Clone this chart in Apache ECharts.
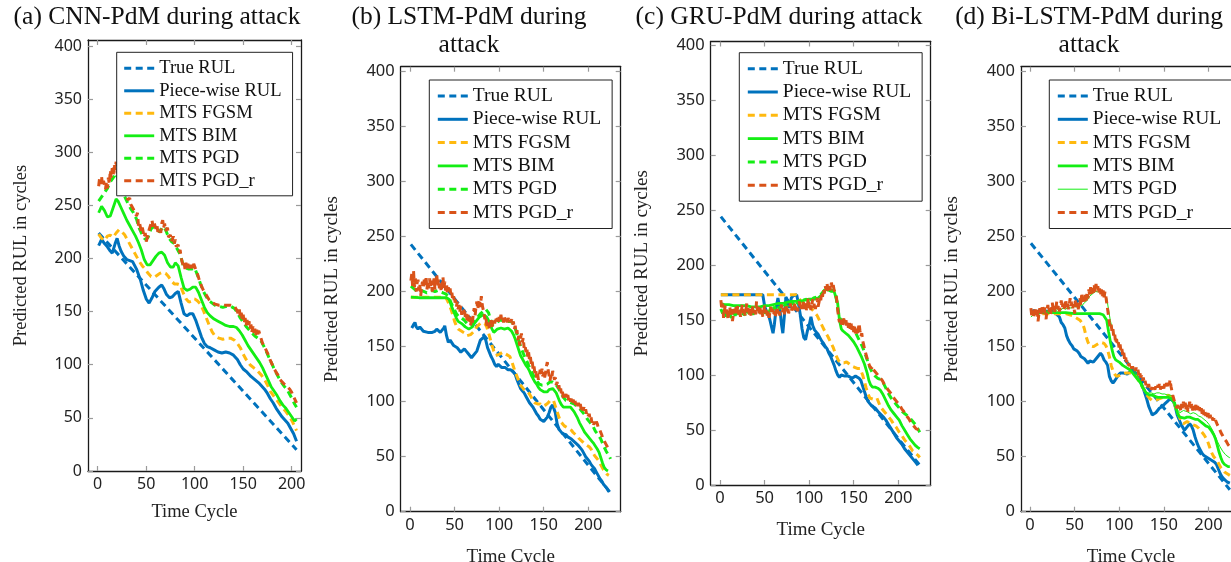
<!DOCTYPE html>
<html><head><meta charset="utf-8">
<script src="https://cdn.jsdelivr.net/npm/echarts@6/dist/echarts.min.js"></script>
<style>html,body{margin:0;padding:0;background:#fff}#c{width:1231px;height:562px}</style>
</head><body><div id="c"></div>
<script>
// ---------- labels ----------
const seriesNames = ['True RUL','Piece-wise RUL','MTS FGSM','MTS BIM','MTS PGD','MTS PGD_r'];
const titles = ['(a) CNN-PdM during attack','(b) LSTM-PdM during\nattack','(c) GRU-PdM during attack','(d) Bi-LSTM-PdM during\nattack'];
const xTicks = [0,50,100,150,200];
const yTicks = [0,50,100,150,200,250,300,350,400];
const xName = 'Time Cycle';
const yName = 'Predicted RUL in cycles';

// ---------- (a) CNN ----------
const a_true = [[1,224],[205,20]];
const a_piece = [[1,212],[4,218],[7,214],[10,211],[13,207],[15,205],[18,214],[20,219],[22,212],[24,207],[27,202],[30,199],[33,198],[36,197],[40,190],[44,180],[47,170],[50,162],[53,158],[56,163],[59,169],[63,173],[66,175],[68,172],[71,166],[74,163],[77,164],[80,167],[83,169],[86,158],[89,148],[92,146],[95,148],[98,148],[101,142],[104,134],[107,126],[110,120],[113,117],[116,116],[120,114],[124,112],[128,111],[132,112],[136,111],[140,109],[144,105],[147,100],[150,96],[154,93],[158,89],[162,86],[166,83],[169,80],[172,77],[175,73],[178,68],[181,64],[184,59],[187,55],[190,51],[193,48],[196,45],[199,40],[202,35],[205,28]];
const a_fgsm = [[1,223],[4,219],[7,217],[10,221],[13,222],[16,220],[19,224],[22,227],[25,225],[28,222],[31,217],[34,212],[37,207],[40,202],[43,197],[46,193],[49,190],[52,186],[55,183],[58,182],[61,184],[64,186],[67,187],[70,186],[73,183],[76,179],[79,176],[82,176],[85,175],[88,168],[91,162],[94,159],[97,160],[100,162],[103,160],[106,157],[109,151],[112,144],[115,137],[118,131],[121,127],[125,125],[129,124],[133,125],[137,125],[141,123],[144,120],[147,116],[150,110],[153,105],[157,100],[161,97],[165,94],[169,90],[172,86],[175,81],[178,75],[182,70],[186,65],[190,60],[194,56],[198,51],[201,46],[205,38]];
const a_bim = [[1,243],[4,249],[7,245],[10,239],[13,240],[16,248],[19,256],[21,254],[24,248],[27,242],[30,236],[33,231],[36,226],[39,221],[42,215],[45,208],[48,199],[51,194],[54,194],[57,198],[60,202],[63,205],[66,206],[69,203],[72,196],[75,192],[78,192],[80,196],[83,193],[86,182],[89,172],[92,170],[95,171],[98,173],[101,173],[104,168],[107,161],[110,154],[113,149],[116,146],[120,143],[124,141],[128,139],[132,137],[136,136],[140,136],[143,135],[146,132],[149,128],[152,123],[155,118],[158,114],[161,110],[164,106],[167,102],[170,97],[173,91],[176,85],[179,79],[182,75],[185,71],[188,66],[191,62],[194,59],[197,55],[200,51],[203,47],[205,49]];
const a_pgd = [[1,254],[4,258],[7,262],[10,266],[13,272],[16,276],[19,280],[22,272],[25,264],[28,258],[31,252],[34,247],[37,243],[40,237],[43,228],[46,222],[49,218],[52,220],[55,228],[58,230],[61,228],[64,225],[67,230],[70,227],[73,220],[76,216],[79,214],[82,209],[85,204],[88,194],[91,191],[94,190],[97,190],[100,191],[103,184],[106,176],[109,169],[112,164],[115,160],[118,158],[121,156],[125,155],[129,154],[133,155],[137,155],[141,153],[144,149],[147,144],[150,140],[153,136],[156,133],[159,130],[162,127],[165,125],[168,123],[171,118],[174,112],[177,106],[180,100],[183,94],[186,89],[189,84],[192,80],[195,77],[198,72],[201,67],[203,63],[205,60]];
const a_pgdr = [[1,268],[2,276],[3,270],[4,277],[5,268],[6,273],[8,265],[9,272],[10,266],[11,276],[12,270],[13,283],[14,276],[15,285],[16,279],[17,289],[18,283],[19,291],[20,280],[21,283],[22,274],[24,277],[25,268],[27,269],[28,261],[30,263],[31,255],[33,257],[34,251],[36,252],[37,246],[39,247],[40,240],[41,243],[42,231],[43,234],[45,225],[46,229],[48,220],[49,224],[50,216],[52,222],[53,227],[55,233],[56,236],[57,230],[58,234],[60,228],[61,232],[62,225],[64,228],[65,224],[66,233],[67,236],[68,229],[69,233],[70,226],[72,229],[73,220],[75,222],[76,216],[78,221],[79,214],[80,218],[81,211],[83,213],[84,206],[85,208],[86,201],[87,197],[88,194],[89,197],[90,190],[91,196],[92,189],[93,195],[94,189],[95,194],[96,189],[97,194],[98,190],[99,195],[100,194],[101,190],[103,185],[105,179],[107,174],[109,170],[111,167],[113,164],[115,161],[117,159],[119,158],[121,157],[123,157],[125,156],[127,155],[129,156],[131,157],[133,156],[135,157],[137,156],[139,157],[141,155],[143,152],[145,148],[146,152],[147,145],[148,149],[149,142],[150,147],[151,139],[152,144],[153,137],[154,142],[155,137],[156,141],[157,134],[158,138],[159,131],[160,136],[161,130],[162,134],[163,128],[164,133],[165,128],[166,132],[168,126],[170,120],[172,117],[174,113],[176,109],[178,104],[180,100],[182,96],[184,93],[186,90],[188,86],[190,84],[192,82],[194,81],[196,79],[198,77],[200,74],[202,70],[204,66],[205,64]];

// ---------- (b) LSTM ----------
const b_true = [[1,243],[224,18]];
const b_piece = [[2,167],[4,170],[5.6,172],[7,168],[9,166],[11,168],[13,167],[15,164],[17,163],[20,163],[22,162],[25,163],[28,164],[30,166],[32,167],[34,163],[36,165],[38,167],[39,169],[41,160],[43,154],[45,156],[47,155],[49,151],[51,152],[53,149],[55,148],[57,145],[59,146],[61,148],[63,146],[65,144],[67,142],[69,140],[71,142],[73,141],[75,146],[77,151],[79,156],[81,157],[83,159],[85,156],[87,149],[89,145],[91,141],[93,138],[95,134],[97,132],[99,134],[101,134],[103,131],[105,130],[107,131],[110,129],[113,129],[116,127],[118,125],[120,120],[122,116],[124,112],[126,110],[128,108],[130,105],[132,102],[134,99],[136,97],[138,95],[140,92],[142,89],[144,87],[146,84],[148,83],[150,82],[152,83],[154,86],[156,90],[158,95],[160,97],[162,96],[163,90],[165,80],[167,75],[169,73],[171,71],[173,70],[175,70],[177,68],[179,67],[181,66],[183,65],[185,63],[187,62],[189,60],[191,58],[193,56],[195,53],[197,50],[199,48],[201,46],[203,43],[205,41],[207,39],[209,36],[211,33],[213,30],[215,28],[217,25],[219,23],[221,21],[223,18]];
const b_fgsm = [[1,195],[10,195],[20,195],[30,195],[40,195],[42,192],[44,188],[46,184],[48,179],[50,173],[52,169],[54,166],[56,165],[58,164],[60,163],[62,162],[64,160],[66,160],[68,161],[70,162],[72,164],[74,167],[76,169],[78,170],[80,172],[82,172],[84,171],[86,168],[88,163],[90,157],[92,151],[94,146],[96,142],[98,141],[100,143],[102,144],[104,145],[106,144],[108,143],[110,142],[112,141],[114,137],[116,132],[118,127],[120,123],[122,119],[124,115],[126,113],[128,111],[130,110],[132,109],[134,107],[136,104],[138,101],[140,99],[143,98],[146,98],[149,96],[152,97],[155,99],[157,101],[159,102],[161,101],[163,96],[165,91],[167,86],[169,82],[171,80],[173,78],[175,77],[177,76],[179,75],[181,74],[183,72],[185,71],[187,69],[189,67],[191,66],[193,64],[195,63],[197,61],[199,60],[201,59],[203,57],[205,54],[207,51],[209,49],[211,47],[213,44],[215,41],[217,38],[219,36],[221,34],[223,33]];
const b_bim = [[1,195],[10,194.5],[20,194.5],[30,194.5],[41,194.5],[44,193],[46,188],[48,184],[50,180],[52,176],[54,173],[56,172],[58,171],[60,170],[62,168],[64,167],[66,166],[68,166],[70,168],[72,171],[74,173],[76,175],[78,177],[80,178],[82,179],[84,179],[86,177],[88,174],[90,170],[92,166],[94,163],[96,164],[98,166],[100,167],[102,167],[104,166],[106,166],[108,167],[110,167],[112,166],[114,164],[116,161],[118,157],[120,152],[122,147],[124,142],[126,139],[128,136],[130,133],[132,131],[134,128],[136,124],[138,121],[140,118],[142,116],[144,113],[146,111],[148,110],[150,109],[152,108],[154,109],[156,111],[158,112],[160,112],[162,111],[164,108],[166,104],[168,100],[170,97],[172,95],[174,94],[176,95],[178,96],[180,95],[182,94],[184,91],[186,88],[188,85],[190,81],[192,78],[194,75],[196,72],[198,70],[200,68],[202,66],[204,64],[206,62],[208,61],[210,57],[212,54],[214,49],[216,44],[218,40],[220,38],[222,37]];
const b_pgd = [[1,205],[4,203],[7,201],[10,200],[13,201],[16,200],[19,199],[22,200],[25,201],[28,200],[31,201],[34,200],[37,199],[40,198],[43,196],[46,190],[49,185],[52,180],[55,177],[58,176],[61,174],[64,171],[67,169],[70,171],[73,174],[76,177],[79,180],[82,182],[85,184],[88,181],[90,176],[92,170],[94,169],[96,170],[98,172],[100,174],[103,174],[106,173],[109,173],[112,173],[115,172],[117,169],[119,164],[121,158],[123,153],[125,148],[127,144],[129,140],[131,137],[133,133],[135,129],[137,126],[139,123],[141,120],[143,118],[145,116],[148,115],[151,115],[154,116],[157,118],[160,118],[163,116],[166,113],[169,108],[172,104],[175,101],[178,100],[181,99],[184,98],[187,96],[190,94],[193,91],[196,88],[199,84],[202,81],[205,78],[208,73],[211,70],[214,66],[217,60],[220,55],[223,51],[225,48]];
const b_pgdr = [[1,210],[2,216],[3,205],[4,219],[5,204],[6,212],[7,200],[8,208],[9,211],[10,201],[11,207],[12,196],[13,204],[14,209],[15,203],[16,211],[17,206],[18,214],[19,202],[20,209],[21,203],[22,212],[23,204],[24,210],[25,200],[26,207],[27,212],[28,202],[29,208],[30,216],[31,205],[32,211],[33,203],[34,209],[35,200],[36,207],[37,213],[38,203],[39,209],[40,201],[41,207],[42,198],[43,204],[44,199],[45,203],[46,196],[47,199],[48,192],[49,196],[50,189],[51,193],[52,186],[53,191],[54,184],[55,188],[56,182],[57,187],[58,179],[59,184],[60,180],[61,185],[62,177],[63,181],[64,174],[65,179],[66,172],[67,177],[68,169],[69,176],[70,172],[71,180],[72,185],[73,178],[74,186],[75,191],[76,184],[77,190],[78,193],[79,186],[80,196],[81,188],[82,184],[83,180],[84,175],[85,178],[86,170],[87,168],[88,172],[89,166],[90,170],[91,174],[92,168],[93,173],[94,176],[95,171],[96,177],[97,173],[98,176],[99,172],[100,177],[101,174],[102,179],[103,173],[104,176],[105,172],[106,177],[107,173],[108,176],[109,172],[110,176],[111,174],[112,176],[113,172],[114,175],[115,170],[116,173],[117,166],[118,169],[119,162],[120,165],[121,156],[122,160],[123,151],[124,158],[125,162],[126,154],[127,158],[128,149],[129,152],[130,145],[131,149],[132,141],[133,145],[134,138],[135,141],[136,134],[137,137],[138,130],[139,133],[140,126],[141,129],[142,122],[143,126],[144,120],[145,124],[146,129],[147,124],[148,130],[149,123],[150,127],[151,122],[152,126],[153,132],[154,136],[155,128],[156,124],[157,119],[158,124],[159,121],[160,128],[161,124],[162,120],[163,122],[164,115],[165,118],[166,112],[167,115],[168,109],[169,112],[170,106],[171,109],[172,103],[173,106],[174,104],[175,107],[176,103],[177,106],[178,101],[179,104],[180,100],[181,103],[182,99],[183,102],[184,98],[185,101],[186,97],[187,100],[188,96],[189,99],[190,95],[191,98],[192,93],[193,96],[194,92],[195,95],[196,91],[197,93],[198,89],[199,91],[200,87],[201,89],[202,84],[203,86],[204,81],[205,83],[206,79],[207,82],[208,78],[209,82],[210,80],[211,77],[212,78],[213,74],[214,72],[215,70],[216,67],[218,64],[220,61],[222,58],[224,56]];

// ---------- (c) GRU ----------
const c_true = [[1,244],[224,18]];
const c_piece = [[1,173],[10,173],[20,173],[30,173],[40,173],[48,173],[50,163],[52,158],[54,156],[56,150],[58,143],[59.5,138],[61,146],[63,161],[65,170],[67,161],[69,146],[70.5,138],[72,152],[74,171],[76,166],[78,161],[80,170],[82,172],[84,171],[86,173],[88,165],[90,155],[92,142],[94,134],[96,132],[98,140],[100,145],[102,153],[104,145],[106,141],[108,139],[110,137],[112,134],[114,131],[116,129],[118,126],[120,124],[122,120],[124,117],[126,113],[128,109],[130,104],[132,100],[134,98],[136,100],[138,100],[140,99],[142,98],[144,99],[146,98],[148,97],[150,98],[152,99],[154,98],[156,97],[158,95],[160,90],[162,85],[164,80],[166,76],[168,74],[170,72],[172,71],[174,70],[176,68],[178,66],[180,65],[183,62],[186,59],[189,55],[192,51],[195,47],[198,43],[201,40],[204,37],[207,33],[210,30],[213,27],[216,24],[219,21],[222,18]];
const c_fgsm = [[1,173],[20,173],[40,173],[60,173],[85,173],[88,170],[91,167],[94,165],[97,163],[100,162],[103,160],[106,157],[109,154],[112,149],[115,144],[118,139],[121,135],[124,130],[127,125],[130,118],[133,113],[136,111],[139,111],[142,112],[145,110],[148,108],[151,107],[154,106],[157,106],[160,100],[162,94],[164,88],[166,83],[168,79],[170,78],[172,78],[174,79],[176,79],[178,75],[180,71],[183,68],[186,65],[189,62],[192,59],[195,55],[198,52],[201,48],[204,45],[207,41],[210,38],[213,35],[216,31],[219,29],[222,27],[224,25]];
const c_bim = [[1,165],[5,164],[10,164],[15,163],[20,163],[25,163],[30,163],[35,162],[40,162],[45,162],[50,163],[55,163],[60,164],[65,165],[70,165],[75,166],[80,167],[85,167],[90,167],[95,168],[100,169],[105,169],[110,170],[113,172],[116,175],[119,178],[122,177],[125,176],[128,176],[130,175],[132,165],[134,150],[136,142],[138,140],[141,138],[144,136],[147,133],[150,130],[153,126],[156,121],[159,116],[162,110],[165,102],[167,95],[169,91],[171,89],[174,89],[177,88],[180,86],[183,82],[186,77],[189,72],[192,68],[195,65],[198,62],[201,59],[204,54],[207,50],[210,46],[213,42],[216,39],[219,36],[222,34],[224,33]];
const c_pgd = [[1,160],[3,156],[5,159],[7,153],[9,158],[11,155],[13,152],[15,157],[17,154],[19,158],[21,155],[23,159],[25,154],[27,157],[29,153],[31,158],[33,156],[35,159],[37,155],[39,158],[41,156],[43,160],[45,157],[47,155],[49,158],[51,156],[53,160],[55,157],[57,161],[59,158],[61,162],[63,159],[65,163],[67,160],[69,163],[71,161],[73,164],[75,162],[77,165],[79,163],[81,166],[83,164],[85,167],[87,165],[89,168],[91,166],[93,168],[95,167],[97,169],[99,167],[101,170],[103,168],[105,170],[107,169],[109,171],[111,170],[113,173],[116,176],[119,179],[122,178],[125,177],[128,177],[130,172],[132,160],[134,152],[136,150],[138,149],[141,148],[144,147],[147,144],[150,141],[153,137],[156,132],[159,127],[162,121],[165,114],[168,107],[171,102],[174,99],[177,97],[180,96],[183,93],[186,88],[189,83],[192,79],[195,76],[198,73],[201,70],[204,67],[207,65],[210,63],[213,61],[216,58],[219,55],[222,51],[224,48]];
const c_pgdr = [[1,168],[2,160],[3,165],[4,152],[5,159],[6,163],[7,156],[8,161],[9,150],[10,157],[11,162],[12,155],[13,160],[14,149],[15,155],[16,160],[17,154],[18,162],[19,157],[20,163],[21,155],[22,160],[23,153],[24,158],[25,164],[26,156],[27,161],[28,154],[29,159],[30,165],[31,157],[32,162],[33,155],[34,160],[35,153],[36,158],[37,163],[38,156],[39,161],[40,155],[41,167],[42,158],[43,163],[44,156],[45,161],[46,155],[47,159],[48,153],[49,158],[50,163],[51,156],[52,160],[53,154],[54,158],[55,152],[56,157],[57,162],[58,155],[59,160],[60,154],[61,158],[62,152],[63,157],[64,162],[65,156],[66,160],[67,154],[68,159],[69,164],[70,157],[71,161],[72,155],[73,159],[74,164],[75,158],[76,162],[77,156],[78,160],[79,165],[80,158],[81,162],[82,157],[83,161],[84,166],[85,159],[86,163],[87,158],[88,162],[89,167],[90,160],[91,164],[92,158],[93,163],[94,168],[95,160],[96,165],[97,159],[98,163],[99,170],[100,161],[101,165],[102,159],[103,164],[104,169],[105,161],[106,166],[107,160],[108,164],[109,170],[110,162],[111,166],[112,171],[113,168],[114,175],[115,171],[116,178],[117,174],[118,181],[119,177],[120,183],[121,178],[122,176],[123,181],[124,177],[125,184],[126,179],[127,182],[128,177],[129,178],[130,174],[131,168],[132,160],[133,152],[134,148],[135,151],[136,146],[137,150],[138,145],[139,153],[140,147],[141,152],[142,145],[143,149],[144,143],[145,148],[146,142],[147,147],[148,141],[149,145],[150,139],[151,144],[152,137],[153,142],[154,136],[155,141],[156,147],[157,140],[158,135],[159,138],[160,131],[161,128],[162,124],[163,121],[164,118],[165,115],[166,112],[167,110],[168,108],[169,109],[170,106],[171,108],[172,105],[173,106],[174,103],[175,104],[176,101],[177,102],[178,99],[179,100],[180,97],[182,95],[184,92],[186,90],[188,87],[190,85],[192,83],[194,80],[196,78],[198,76],[200,74],[202,72],[204,69],[206,67],[208,64],[210,62],[212,60],[214,57],[216,55],[218,53],[220,51],[222,50],[224,50]];

// ---------- (d) Bi-LSTM ----------
const d_true = [[1,244],[224,20]];
const d_piece = [[1,182],[3,181],[5,183],[7,180],[9,181],[11,183],[13,181],[15,182],[17,183],[19,181],[21,183],[23,184],[25,182],[27,181],[29,180],[31,179],[33,177],[35,172],[37,170],[39,167],[41,160],[43,156],[45,153],[47,151],[49,148],[51,147],[53,146],[55,144],[57,141],[59,140],[61,139],[63,137],[65,135],[67,137],[69,138],[71,136],[73,137],[75,140],[77,142],[79,144],[81,142],[83,138],[85,136],[87,133],[89,123],[91,119],[93,117],[95,119],[97,120],[99,124],[101,126],[103,127],[105,126],[107,125],[109,125],[111,126],[113,128],[115,129],[117,127],[119,126],[121,122],[123,119],[125,116],[127,112],[129,107],[131,102],[133,96],[135,92],[137,88],[139,89],[141,90],[143,92],[145,94],[147,95],[149,96],[151,98],[153,99],[155,101],[157,103],[159,104],[161,100],[163,95],[165,88],[167,84],[169,80],[171,77],[173,74],[175,76],[177,78],[179,80],[181,78],[183,74],[185,68],[187,63],[189,59],[191,56],[193,53],[195,51],[197,50],[199,49],[201,48],[203,47],[205,46],[207,45],[209,43],[211,39],[213,35],[215,32],[217,30],[219,29],[221,27],[224,26]];
const d_fgsm = [[1,180],[10,180],[20,180],[30,180],[40,180],[48,178],[52,176],[56,174],[59,171],[61,166],[63,159],[65,154],[67,151],[69,150],[71,150],[73,151],[75,152],[77,153],[79,154],[81,154],[83,153],[85,151],[87,147],[89,141],[91,133],[93,128],[95,125],[97,123],[99,123],[101,124],[104,125],[107,126],[110,126],[113,126],[116,125],[119,123],[122,119],[125,115],[128,111],[131,106],[134,103],[137,101],[140,101],[143,102],[146,103],[149,104],[152,105],[155,106],[158,104],[160,102],[162,98],[164,93],[166,89],[168,85],[170,82],[172,80],[174,81],[176,82],[178,81],[180,80],[183,79],[186,78],[189,76],[192,73],[195,70],[198,66],[200,62],[202,57],[204,53],[206,50],[208,48],[210,46],[212,43],[214,40],[216,38],[218,36],[220,35],[222,34],[224,33]];
const d_bim = [[1,180],[10,181],[20,181],[30,181],[40,181],[50,180],[60,180],[70,180],[78,180],[82,179],[84,178],[86,174],[88,164],[90,155],[92,147],[94,141],[96,138],[98,137],[100,136],[102,135],[104,133],[106,132],[108,131],[110,130],[112,129],[114,127],[116,125],[118,123],[120,121],[122,119],[124,117],[126,113],[128,111],[130,108],[132,107],[134,106],[137,106],[140,105],[143,104],[146,104],[149,104],[152,104],[155,104],[158,103],[160,103],[162,99],[164,93],[166,88],[168,86],[170,85],[173,85],[176,86],[179,86],[182,85],[185,84],[188,84],[191,82],[194,80],[197,78],[200,77],[203,74],[206,70],[208,66],[210,60],[212,54],[214,49],[216,45],[218,43],[220,42],[222,41],[224,41]];
const d_pgd = [[1,177],[4,179],[7,181],[10,179],[13,182],[16,180],[19,183],[22,181],[25,184],[28,182],[31,184],[34,183],[37,185],[40,184],[43,186],[46,185],[49,187],[52,186],[55,188],[58,187],[61,190],[64,192],[67,196],[70,198],[73,200],[76,200],[79,200],[82,199],[84,200],[86,194],[88,184],[90,174],[92,167],[94,162],[96,158],[98,155],[100,151],[102,147],[104,144],[106,141],[108,138],[110,135],[112,133],[114,131],[116,129],[118,127],[120,124],[122,121],[124,119],[126,116],[128,111],[130,109],[133,108],[136,108],[139,107],[142,108],[145,108],[148,107],[151,107],[154,106],[157,106],[160,105],[162,100],[164,95],[166,92],[168,90],[170,91],[172,92],[174,92],[176,91],[178,90],[180,89],[183,90],[186,89],[189,87],[192,86],[195,84],[198,82],[201,79],[204,75],[207,70],[210,64],[213,59],[216,55],[219,52],[222,50],[224,49]];
const d_pgdr = [[1,185],[2,178],[3,183],[4,176],[5,181],[6,186],[7,179],[8,184],[9,173],[10,180],[11,185],[12,178],[13,182],[14,188],[15,181],[16,186],[17,179],[18,175],[19,183],[20,188],[21,181],[22,185],[23,179],[24,184],[25,190],[26,183],[27,187],[28,181],[29,185],[30,191],[31,184],[32,188],[33,182],[34,186],[35,192],[36,185],[37,189],[38,183],[39,187],[40,193],[41,186],[42,190],[43,184],[44,188],[45,194],[46,187],[47,191],[48,185],[49,189],[50,180],[51,192],[52,186],[53,190],[54,184],[55,188],[56,194],[57,187],[58,199],[59,190],[60,195],[61,189],[62,197],[63,192],[64,200],[65,194],[66,202],[67,196],[68,204],[69,198],[70,205],[71,199],[72,206],[73,200],[74,207],[75,201],[76,205],[77,198],[78,203],[79,197],[80,202],[81,196],[82,201],[83,195],[84,200],[85,196],[86,190],[87,184],[88,178],[89,172],[90,167],[91,170],[92,163],[93,166],[94,158],[95,161],[96,153],[97,157],[98,151],[99,154],[100,148],[101,152],[102,145],[103,148],[104,142],[105,145],[106,139],[107,142],[108,136],[109,138],[110,133],[111,135],[112,131],[113,133],[114,130],[115,132],[116,129],[117,131],[118,128],[119,131],[120,127],[121,129],[122,124],[123,127],[124,122],[125,124],[126,119],[127,122],[128,117],[129,119],[130,115],[131,117],[132,113],[133,116],[134,112],[135,114],[136,111],[137,113],[138,110],[139,113],[140,111],[141,114],[142,112],[143,115],[144,113],[145,116],[146,111],[147,114],[148,112],[149,115],[150,112],[151,116],[152,113],[153,117],[154,114],[155,118],[156,115],[157,120],[158,114],[159,110],[160,106],[161,103],[162,100],[163,98],[164,96],[165,94],[166,97],[167,93],[168,96],[169,92],[170,98],[171,94],[172,100],[173,95],[174,99],[175,93],[176,97],[177,91],[178,95],[179,100],[180,94],[181,98],[182,92],[183,96],[184,91],[185,95],[186,97],[187,92],[188,96],[189,91],[190,95],[191,90],[192,94],[193,89],[194,93],[195,88],[196,92],[197,87],[198,91],[199,86],[200,90],[201,85],[202,88],[203,84],[204,86],[205,83],[206,85],[207,81],[208,83],[210,79],[212,76],[214,72],[216,69],[218,66],[220,64],[222,61],[224,59]];

const panelData = [
  [a_true,a_piece,a_fgsm,a_bim,a_pgd,a_pgdr],
  [b_true,b_piece,b_fgsm,b_bim,b_pgd,b_pgdr],
  [c_true,c_piece,c_fgsm,c_bim,c_pgd,c_pgdr],
  [d_true,d_piece,d_fgsm,d_bim,d_pgd,d_pgdr]
];

// ---------- layout & style ----------
const SERIF = 'Liberation Serif';
const SANS = 'Noto Sans';
const DASH = [7, 4.5];
const BLUE = '#0072BD', YEL = '#FFB90F', GRN = '#14EE14', RED = '#D95319';
const baseStyles = [
  {color: BLUE, width: 3, type: DASH},
  {color: BLUE, width: 3, type: 'solid'},
  {color: YEL, width: 3, type: DASH},
  {color: GRN, width: 2.8, type: 'solid'},
  {color: GRN, width: 3, type: DASH},
  {color: RED, width: 3, type: DASH}
];
function styleFor(p, k) {
  if (p === 3 && k === 4) return {color: GRN, width: 1, type: 'solid'};
  return baseStyles[k];
}
const panels = [
  {grid:{left:88, top:40, width:213, height:431}, x:[-10,209.6], y:[0,405.6], fs:18.5, lfs:18.6, tfs:16,
   legend:{left:116.7, top:52.3, gap:2.5, padding:[6,11,5,6]}, title:{x:157, y:17}, yGap:57, xGap:32},
  {grid:{left:400.7, top:66.7, width:220, height:445}, x:[-10.4,236.3], y:[0,404.5], fs:19, lfs:19.5, tfs:16.5,
   legend:{left:429.3, top:80, gap:3.3, padding:[6,11,6,7]}, title:{x:469, y:31}, yGap:59, xGap:36},
  {grid:{left:710.7, top:41.5, width:220, height:443.5}, x:[-10.4,236.3], y:[0,403.2], fs:19, lfs:19.5, tfs:16.5,
   legend:{left:739.3, top:52.7, gap:3.3, padding:[6,11,6,7]}, title:{x:779, y:17}, yGap:59, xGap:36},
  {grid:{left:1021, top:66.7, width:219.8, height:445}, x:[-10.1,236.3], y:[0,404.5], fs:19, lfs:19.5, tfs:16.5,
   legend:{left:1049.3, top:80, gap:3.3, padding:[6,11,6,7]}, title:{x:1089, y:31}, yGap:59, xGap:36}
];

const AXC = '#1a1a1a', TICKC = '#9a9a9a';
const grid = [], xAxis = [], yAxis = [], series = [], legend = [], graphic = [];
panels.forEach((p, i) => {
  grid.push(Object.assign({containLabel:false, outerBoundsMode:'none', show:false}, p.grid));
  const tick = (vals) => ({show:true, inside:true, length:5, customValues:vals, lineStyle:{color:TICKC, width:1.2}});
  const line = {show:true, onZero:false, lineStyle:{color:AXC, width:1.3}};
  xAxis.push({type:'value', gridIndex:i, min:p.x[0], max:p.x[1], position:'bottom',
    axisLine:line, axisTick:tick(xTicks), splitLine:{show:false},
    axisLabel:{customValues:xTicks, fontFamily:SANS, fontSize:p.tfs, color:'#222', margin:5},
    name:xName, nameLocation:'middle', nameGap:p.xGap,
    nameTextStyle:{fontFamily:SERIF, fontSize:p.fs, color:'#222'}});
  xAxis.push({type:'value', gridIndex:i, min:p.x[0], max:p.x[1], position:'top',
    axisLine:line, axisTick:tick(xTicks), splitLine:{show:false}, axisLabel:{show:false}});
  yAxis.push({type:'value', gridIndex:i, min:p.y[0], max:p.y[1], position:'left',
    axisLine:line, axisTick:tick(yTicks), splitLine:{show:false},
    axisLabel:{customValues:yTicks, fontFamily:SANS, fontSize:p.tfs, color:'#222', margin:6},
    name:yName, nameLocation:'middle', nameGap:p.yGap, nameRotate:90,
    nameTextStyle:{fontFamily:SERIF, fontSize:p.fs, color:'#222'}});
  yAxis.push({type:'value', gridIndex:i, min:p.y[0], max:p.y[1], position:'right',
    axisLine:line, axisTick:tick(yTicks), splitLine:{show:false}, axisLabel:{show:false}});
  panelData[i].forEach((d, k) => {
    const st = styleFor(i, k);
    series.push({type:'line', name:seriesNames[k], xAxisIndex:2*i, yAxisIndex:2*i, data:d,
      symbol:'none', showSymbol:false, smooth:false, animation:false, silent:true,
      lineStyle:{color:st.color, width:st.width, type:st.type}, itemStyle:{color:st.color}});
  });
  legend.push({orient:'vertical', left:p.legend.left, top:p.legend.top, itemWidth:30, itemHeight:14,
    itemGap:p.legend.gap, itemTextGap:8, padding:p.legend.padding, backgroundColor:'#fff',
    borderColor:'#222', borderWidth:1, borderRadius:0, selectedMode:false,
    textStyle:{fontFamily:SERIF, fontSize:p.lfs, color:'#111', lineHeight:20},
    itemStyle:{opacity:0},
    data: seriesNames.map((n, k) => {
      const st = styleFor(i, k);
      return {name:n, itemStyle:{opacity:0}, lineStyle:{color:st.color, width:st.width, type:st.type}};
    })});
  graphic.push({type:'text', x:p.title.x, y:p.title.y, silent:true,
    style:{text:titles[i], fontFamily:SERIF, fontSize:25.5, fill:'#111', align:'center', verticalAlign:'middle', lineHeight:28}});
});

const chart = echarts.init(document.getElementById('c'), null, {renderer:'canvas'});
chart.setOption({animation:false, backgroundColor:'#fff', grid, xAxis, yAxis, series, legend, graphic});
</script>
</body></html>
